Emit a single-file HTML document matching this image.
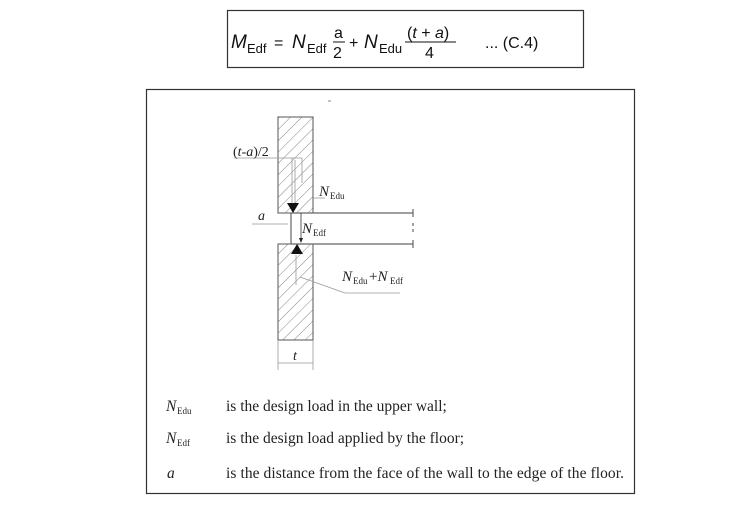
<!DOCTYPE html>
<html><head><meta charset="utf-8"><style>
html,body{margin:0;padding:0;background:#fff;}
body{width:737px;height:501px;overflow:hidden;}
</style></head><body>
<svg width="737" height="501" viewBox="0 0 737 501" xmlns="http://www.w3.org/2000/svg">
<defs>
<pattern id="h" patternUnits="userSpaceOnUse" width="8" height="8" patternTransform="rotate(45)">
<line x1="0" y1="0" x2="0" y2="8" stroke="#777" stroke-width="0.9"/>
</pattern>
</defs>
<rect x="227.5" y="10.5" width="356" height="57" fill="#fff" stroke="#333" stroke-width="1.2"/>
<g font-family="Liberation Sans, sans-serif" fill="#111">
<text x="231" y="48" font-size="19" font-style="italic">M</text><text x="247" y="53" font-size="13">Edf</text>
<text x="274" y="48" font-size="16">=</text>
<text x="292" y="48" font-size="19" font-style="italic">N</text><text x="307" y="53" font-size="13">Edf</text>
<text x="334" y="38" font-size="16">a</text>
<line x1="333" y1="42" x2="345" y2="42" stroke="#111" stroke-width="1"/>
<text x="333" y="58" font-size="16">2</text>
<text x="349" y="48" font-size="16">+</text>
<text x="364" y="48" font-size="19" font-style="italic">N</text><text x="379" y="53" font-size="13">Edu</text>
<text x="407" y="38" font-size="16">(<tspan font-style="italic">t</tspan> + <tspan font-style="italic">a</tspan>)</text>
<line x1="405" y1="42" x2="456" y2="42" stroke="#111" stroke-width="1"/>
<text x="425" y="58" font-size="16">4</text>
<text x="485" y="48" font-size="16">... (C.4)</text>
</g>
<rect x="146.5" y="89.5" width="488" height="404" fill="#fff" stroke="#333" stroke-width="1.2"/>
<line x1="328" y1="101" x2="331" y2="101" stroke="#888"/>
<rect x="278" y="117" width="35" height="96" fill="url(#h)" stroke="#555" stroke-width="1"/>
<rect x="278" y="244" width="35" height="96" fill="url(#h)" stroke="#555" stroke-width="1"/>
<g stroke="#666" stroke-width="1.2" fill="none">
<line x1="291" y1="213" x2="413" y2="213"/>
<line x1="291" y1="244" x2="413" y2="244"/>
<line x1="291" y1="213" x2="291" y2="244"/>
<line x1="413" y1="209" x2="413" y2="217"/>
<line x1="413" y1="240" x2="413" y2="248"/>
<line x1="413" y1="223" x2="413" y2="234" stroke-dasharray="3,3"/>
</g>
<g stroke="#999" stroke-width="0.8" fill="none">
<line x1="234" y1="158" x2="302" y2="158"/>
<line x1="292" y1="158" x2="292" y2="205"/>
<line x1="302" y1="158" x2="302" y2="183"/>
<line x1="295" y1="160" x2="295" y2="205"/>
<line x1="313" y1="198" x2="325" y2="198"/>
<line x1="296" y1="255" x2="296" y2="285"/>
<line x1="300" y1="277" x2="345" y2="293"/>
<line x1="345" y1="293" x2="400" y2="293"/>
<line x1="252" y1="224" x2="288" y2="224"/>
<line x1="278" y1="340" x2="278" y2="370"/>
<line x1="313" y1="340" x2="313" y2="370"/>
<line x1="278" y1="363" x2="313" y2="363"/>
</g>
<line x1="301" y1="213" x2="301" y2="240" stroke="#333" stroke-width="0.8"/>
<polygon points="299,238 303,238 301,243" fill="#222"/>
<polygon points="287,203 299,203 293,213" fill="#111"/>
<polygon points="291,254 303,254 297,244" fill="#111"/>
<g font-family="Liberation Serif, serif" fill="#222">
<text x="233" y="156" font-size="14">(<tspan font-style="italic">t</tspan>-<tspan font-style="italic">a</tspan>)/2</text>
<text x="319" y="196" font-size="15" font-style="italic">N</text><text x="330" y="199" font-size="9">Edu</text>
<text x="302" y="233" font-size="15" font-style="italic">N</text><text x="313" y="236" font-size="9">Edf</text>
<text x="258" y="220" font-size="14" font-style="italic">a</text>
<text x="342" y="281" font-size="15" font-style="italic">N</text><text x="353" y="284" font-size="9">Edu</text>
<text x="369" y="281" font-size="15">+<tspan font-style="italic">N</tspan></text><text x="390" y="284" font-size="9">Edf</text>
<text x="293" y="360" font-size="14" font-style="italic">t</text>
<text x="166" y="411" font-size="15.5" font-style="italic">N</text><text x="177" y="414" font-size="9">Edu</text>
<text x="226" y="411" font-size="15.5">is the design load in the upper wall;</text>
<text x="166" y="443" font-size="15.5" font-style="italic">N</text><text x="177" y="446" font-size="9">Edf</text>
<text x="226" y="443" font-size="15.5">is the design load applied by the floor;</text>
<text x="167" y="478" font-size="15.5" font-style="italic">a</text>
<text x="226" y="478" font-size="15.5" textLength="398">is the distance from the face of the wall to the edge of the floor.</text>
</g>
</svg>
</body></html>
